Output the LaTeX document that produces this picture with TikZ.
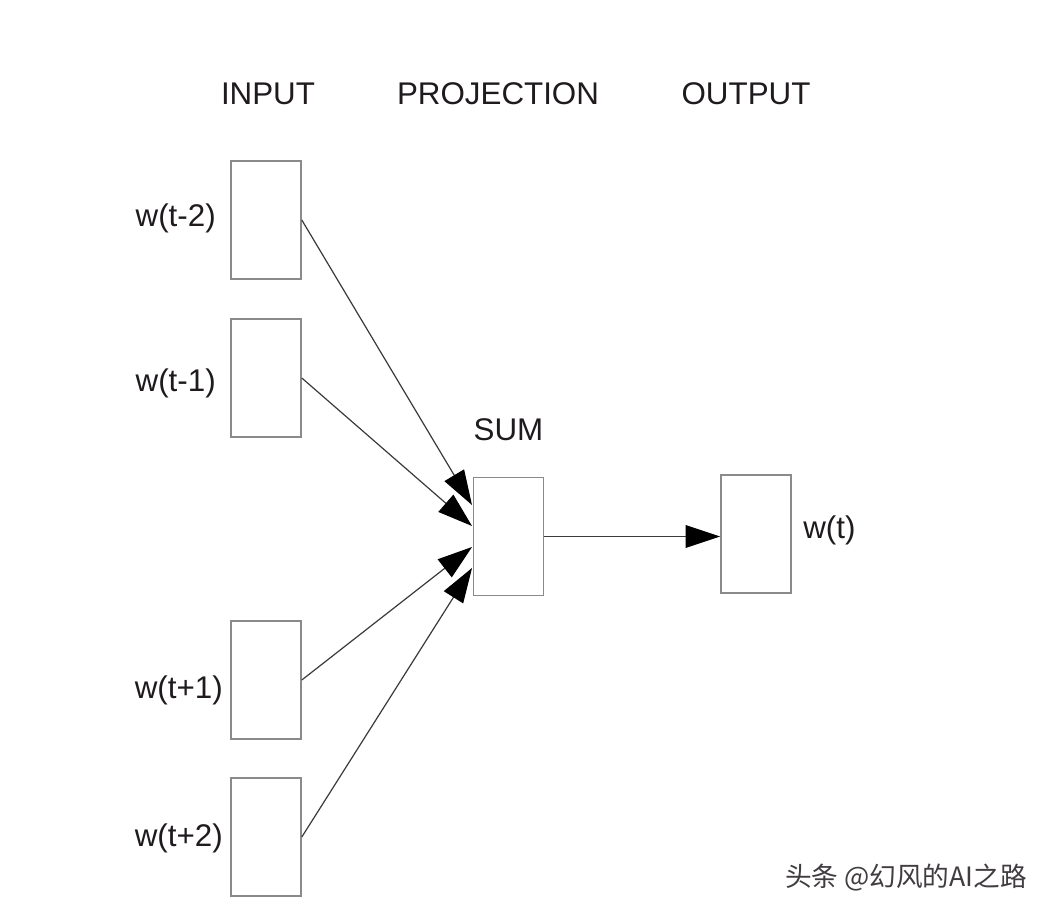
\documentclass[tikz,border=0pt]{standalone}
\usepackage{fontspec}
\setmainfont{Liberation Sans}
\newfontfamily\cjk{Noto Sans CJK SC}
\usetikzlibrary{arrows.meta}
\definecolor{txt}{HTML}{1E1A1E}
\definecolor{boxc}{HTML}{8A8A8A}
\definecolor{linec}{HTML}{3A3A3A}
\tikzset{
  unit/.style={draw=boxc, line width=1.2pt, fill=white, minimum width=70*0.75pt, minimum height=118*0.75pt, inner sep=0pt},
  lbl/.style={text=txt, font=\fontsize{23.5}{28}\selectfont, inner sep=0pt},
  conn/.style={draw=linec, line width=0.9pt, -{Triangle[length=26pt,width=17pt,fill=black,color=black]}},
}
\begin{document}
\begin{tikzpicture}[x=0.75pt,y=-0.75pt]
\useasboundingbox[fill=white] (0,0) rectangle (1056,916);
% headers
\node[lbl] (hin) at (268,94) {INPUT};
\node[lbl] (hproj) at (498,94) {PROJECTION};
\node[lbl] (hout) at (746,94) {OUTPUT};
% input boxes
\node[unit] (i1) at (266,220) {};
\node[unit] (i2) at (266,378) {};
\node[unit] (i3) at (266,680) {};
\node[unit] (i4) at (266,837) {};
\node[lbl, anchor=east] (l1) at (216,218) {w(t-2)};
\node[lbl, anchor=east] (l2) at (216,383) {w(t-1)};
\node[lbl, anchor=east] (l3) at (223,690) {w(t+1)};
\node[lbl, anchor=east] (l4) at (223,838) {w(t+2)};
% projection
\node[unit] (sum) at (508.5,536.5) {};
\node[lbl] (sumlbl) at (508.5,430) {SUM};
% output
\node[unit] (out) at (756,534) {};
\node[lbl, anchor=west] (lout) at (803,530) {w(t)};
% connectors
\coordinate (t1) at (472,505);
\coordinate (t2) at (472,526);
\coordinate (t3) at (472,547);
\coordinate (t4) at (472,568);
\draw[conn] (i1.east) -- (t1);
\draw[conn] (i2.east) -- (t2);
\draw[conn] (i3.east) -- (t3);
\draw[conn] (i4.east) -- (t4);
\draw[conn] (sum.east) -- (sum.east -| out.west);
% watermark
\node[text=txt!85, font=\cjk\fontsize{20}{24}\selectfont, inner sep=0pt] (wm) at (906,878) {头条 @幻风的AI之路};
\end{tikzpicture}
\end{document}
